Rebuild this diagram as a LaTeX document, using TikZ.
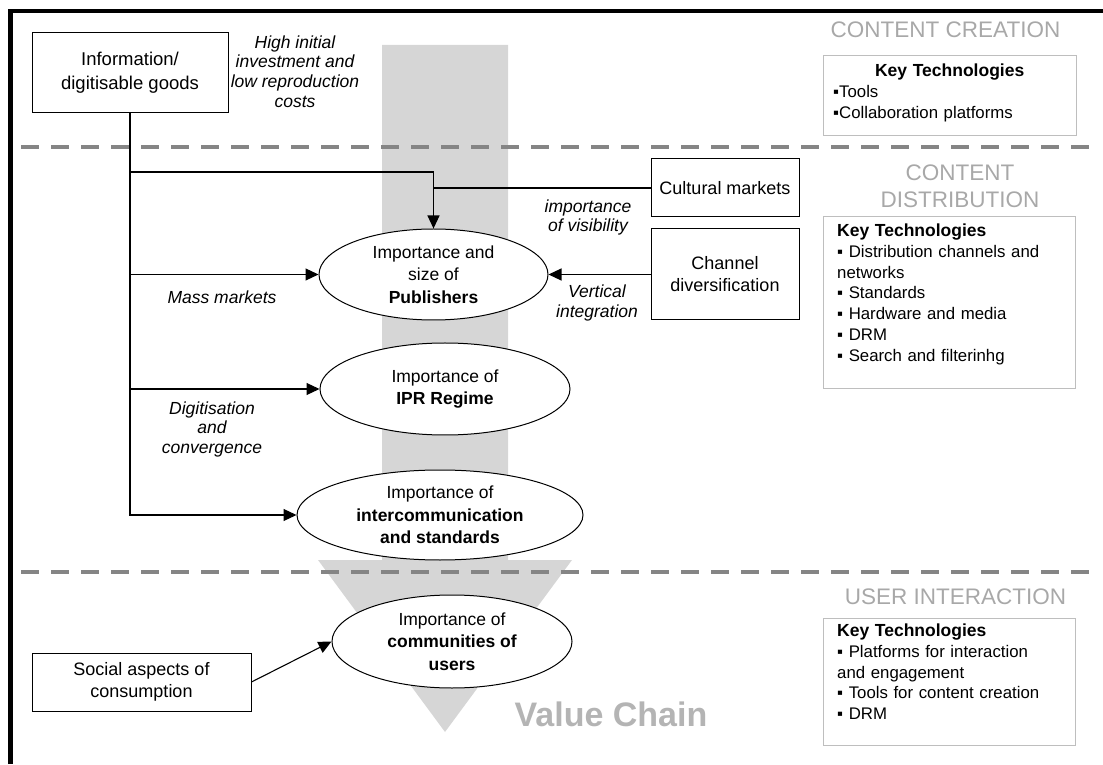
\documentclass[tikz,border=0pt]{standalone}
\usepackage{fontspec}
\setmainfont{Liberation Sans}
\usetikzlibrary{arrows.meta}
\usetikzlibrary{shapes.geometric,calc}

\definecolor{bandgray}{RGB}{214,214,214}
\definecolor{dashgray}{RGB}{133,133,133}
\definecolor{headgray}{RGB}{168,168,168}
\definecolor{chaingray}{RGB}{180,180,180}
\definecolor{framegray}{RGB}{190,190,190}

\newcommand{\keytech}{{\bfseries\fontsize{17.5}{20.7}\selectfont Key Technologies}}

\begin{document}
\begin{tikzpicture}[x=1pt,y=1pt,
    boxnode/.style={draw,line width=1pt,fill=white,align=center,inner sep=0pt,font=\fontsize{18}{22}\selectfont},
    oval/.style={boxnode,ellipse,font=\fontsize{17.5}{22.5}\selectfont},
    note/.style={align=center,inner sep=0pt,font=\itshape\fontsize{17.5}{19.5}\selectfont},
    sectionhead/.style={align=center,inner sep=0pt,text=headgray,font=\fontsize{22.5}{27}\selectfont},
    techbox/.style={draw=framegray,line width=1pt,fill=white,inner sep=0pt},
    techtext/.style={anchor=north west,align=left,inner sep=0pt,font=\fontsize{16.8}{20.7}\selectfont},
    link/.style={line width=1.1pt},
    arr/.style={link,-{Triangle[length=13pt,width=12pt]}},
    sect/.style={line width=4pt,dashgray,dash pattern=on 18pt off 12pt}]

    \useasboundingbox (0,0) rectangle (1103,764);

    % value chain band
    \fill[bandgray] (382,719) -- (508,719) -- (508,204) -- (572,204)
        -- (445,32) -- (318,204) -- (382,204) -- cycle;

    \draw[sect] (21,617) -- (1089,617); %sections
    \draw[sect] (21,192) -- (1089,192);

    \draw[line width=4.5pt] (10.5,0) -- (10.5,753) -- (1103,753); %frame

    \node[sectionhead] (hcc) at (945.5,734) {CONTENT CREATION};
    \node[sectionhead] (hcd) at (960,577.5) {CONTENT\\DISTRIBUTION};
    \node[sectionhead] (hui) at (955.5,167) {USER INTERACTION};

    \node[techbox,minimum width=253pt,minimum height=80pt] (ktc) at (949.5,668) {};
    \node[techtext,text width=233pt] (ktctext) at (833,700)
        {\makebox[\hsize]{\keytech}\\ ▪Tools\\ ▪Collaboration platforms};

    \node[techbox,minimum width=252pt,minimum height=172pt] (ktd) at (949,461) {};
    \node[techtext,text width=228pt] (ktdtext) at (837,540)
        {\keytech\\ ▪ Distribution channels and\\ networks\\ ▪ Standards\\
         ▪ Hardware and media\\ ▪ DRM\\ ▪ Search and filterinhg};

    \node[techbox,minimum width=252pt,minimum height=127pt] (ktu) at (949,82.5) {};
    \node[techtext,text width=228pt] (ktutext) at (837,140)
        {\keytech\\ ▪ Platforms for interaction\\ and engagement\\
         ▪ Tools for content creation\\ ▪ DRM};

    \node[boxnode,minimum width=196pt,minimum height=80pt,font=\fontsize{18.5}{24}\selectfont]
        (info) at (130,691) {Information/\\digitisable goods};
    \node[note] (cost) at (295,692.5) {High initial\\investment and\\low reproduction\\costs};

    \node[boxnode,minimum width=148pt,minimum height=58pt] (cult) at (725,576) {Cultural markets};
    \node[boxnode,minimum width=148pt,minimum height=91pt] (chan) at (725,489.5) {Channel\\diversification};
    \node[boxnode,minimum width=219pt,minimum height=58pt] (social) at (141.5,82) {Social aspects of\\consumption};

    \node[oval,minimum width=229pt,minimum height=91pt] (pub) at (433.5,489.5)
        {Importance and\\size of\\\textbf{Publishers}};
    \node[oval,minimum width=250pt,minimum height=92pt] (ipr) at (445,375)
        {Importance of\\\textbf{IPR Regime}};
    \node[oval,minimum width=286pt,minimum height=90pt] (inter) at (440,249)
        {Importance of\\\textbf{intercommunication}\\\textbf{and standards}};
    \node[oval,minimum width=240pt,minimum height=93pt] (comm) at (452,122.5)
        {Importance of\\\textbf{communities of}\\\textbf{users}};

    \node[note] (mass) at (222,467) {Mass markets};
    \node[note] (vis) at (588,546.5) {importance\\of visibility};
    \node[note] (vert) at (597,461) {Vertical\\integration};
    \node[note] (digi) at (212,335) {Digitisation\\and\\convergence};

    \node[inner sep=0pt,text=chaingray,font=\bfseries\fontsize{34}{40}\selectfont] (chain) at (611,49.5) {Value Chain};

    % connectors
    \coordinate (split) at (info.south |- 0,592);
    \draw[arr] (info.south) |- (inter.west);
    \draw[arr] (split) -| (pub.north);
    \draw[link] (cult.west) -- (cult.west -| pub.north);
    \draw[arr] (info.south |- pub.west) -- (pub.west);
    \draw[arr] (info.south |- ipr.west) -- (ipr.west);
    \draw[arr] (chan.west) -- (pub.east);
    \draw[arr] (social.east) -- (comm.west);
\end{tikzpicture}
\end{document}
